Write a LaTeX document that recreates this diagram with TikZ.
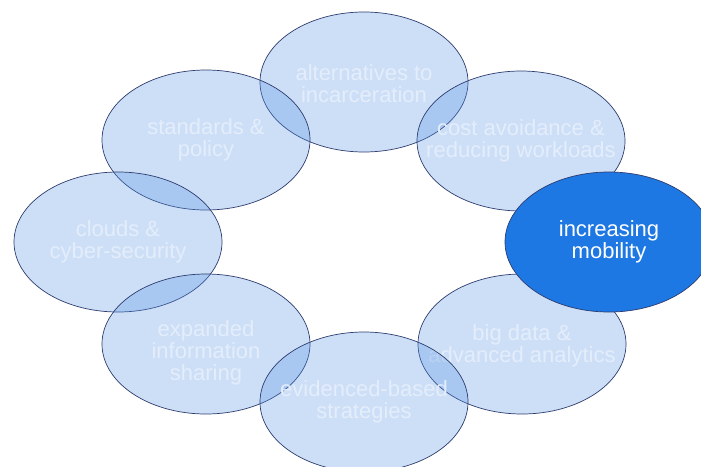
\documentclass[tikz,border=0pt]{standalone}
\usepackage{fontspec}
\setmainfont{Liberation Sans}
\usetikzlibrary{shapes.geometric}
\definecolor{ringblue}{RGB}{88,148,228}
\definecolor{ringtext}{RGB}{228,237,251}
\definecolor{ringline}{RGB}{45,60,110}
\definecolor{mobblue}{RGB}{30,120,228}
\tikzset{
  area/.style={ellipse, draw=ringline, line width=0.7pt, fill=ringblue,
    fill opacity=0.3, minimum width=208pt, minimum height=140pt, inner sep=0pt},
  focus/.style={area, fill=mobblue, fill opacity=1},
  areatext/.style={text=ringtext, align=center, inner sep=0pt,
    font=\fontsize{22}{22}\selectfont},
  focustext/.style={areatext, text=white}
}
\begin{document}
\begin{tikzpicture}[x=1pt,y=-1pt]
  \useasboundingbox (0,0) rectangle (701,466);
  \clip (0,0) rectangle (701,466);
  % ring of areas
  \node[area, label={[areatext, yshift=-2pt]center:alternatives to\\incarceration}] (alt) at (364,82) {};
  \node[area, label={[areatext]center:standards \&\\policy}] (std) at (206,140) {};
  \node[area, label={[areatext]center:cost avoidance \&\\reducing workloads}] (cost) at (521,141) {};
  \node[area, label={[areatext]center:clouds \&\\cyber-security}] (cloud) at (118,242) {};
  \node[area, label={[areatext, yshift=-9pt]center:expanded\\information\\sharing}] (expd) at (206,344) {};
  \node[area, label={[areatext, yshift=-2pt]center:big data \&\\advanced analytics}] (bigd) at (522,344) {};
  \node[area, label={[areatext]center:evidenced-based\\strategies}] (evid) at (364,402) {};
  % highlighted one
  \node[focus, label={[focustext]center:increasing\\mobility}] (mob) at (609,242) {};
\end{tikzpicture}
\end{document}
